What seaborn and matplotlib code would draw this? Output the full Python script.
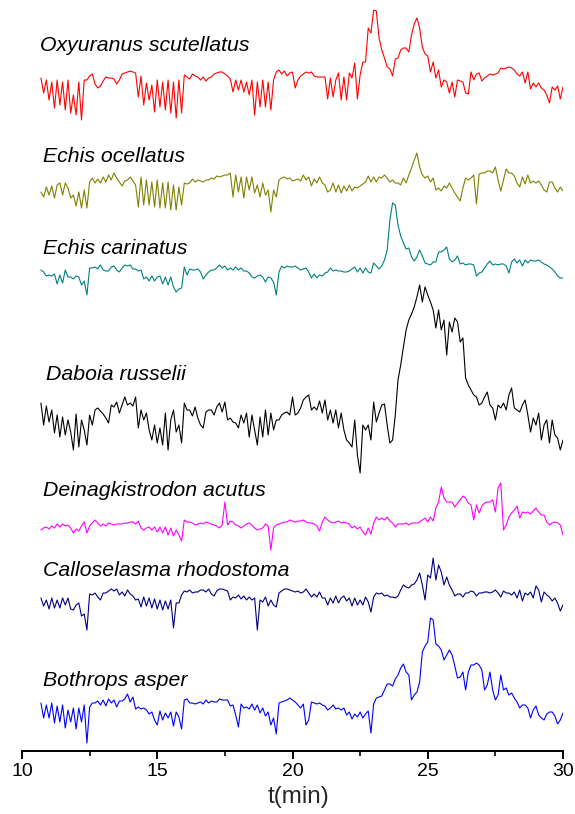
import numpy as np
import pandas as pd
import matplotlib
matplotlib.use("Agg")
import matplotlib.pyplot as plt
import seaborn as sns

sns.set_style("white")
plt.rcParams["font.family"] = ["Liberation Sans", "DejaVu Sans"]

# Sampling grid of the chromatograms (min)
time = np.round(10.7 + 0.1 * np.arange(194), 2)

species = ["Oxyuranus scutellatus", "Echis ocellatus", "Echis carinatus",
           "Daboia russelii", "Deinagkistrodon acutus",
           "Calloselasma rhodostoma", "Bothrops asper"]

# Detector signal of each venom (arbitrary units, baseline-corrected)
oxyuranus = [
    22, 7, 20, 0, 18, -8, 20, -5, 18, -10,
    20, -13, 5, -15, 18, -20, 20, 20, 24, 26,
    16, 12, 14, 19, 23, 22, 22, 21, 16, 20,
    26, 27, 28, 29, 28, 27, 3, 24, -5, 17,
    0, 15, -12, 20, -7, 18, -10, 20, -13, 18,
    -18, 20, -13, 25, 23, 21, 26, 24, 23, 20,
    23, 19, 22, 23, 26, 27, 28, 28, 26, 24,
    21, 8, 20, 10, 20, 8, 18, 5, 20, -15,
    18, -7, 20, -7, 18, -10, 20, 28, 30, 26,
    29, 24, 27, 28, 12, 20, 24, 26, 28, 27,
    28, 24, 23, 23, 23, 23, 1, 22, 3, 20,
    27, 0, 23, 0, 27, 22, 37, 1, 25, 38,
    38, 72, 67, 90, 89, 62, 50, 42, 33, 31,
    24, 41, 42, 50, 52, 52, 48, 65, 76, 82,
    72, 53, 46, 44, 28, 38, 22, 30, 13, 20,
    18, 7, 18, 3, 20, 19, 18, 7, 6, 28,
    20, 26, 27, 19, 22, 24, 26, 25, 26, 27,
    32, 31, 32, 33, 32, 30, 26, 24, 28, 17,
    28, 11, 17, 13, 17, 12, 10, 5, -3, 13,
    10, 14, 1, 13]

echis_ocellatus = [
    -10, -15, -5, -13, -4, -16, -3, -1, -13, -1,
    -6, -16, -13, -24, -10, -26, -8, -26, 0, 4,
    -1, 3, -1, 5, 0, 7, 2, 9, 4, 0,
    -4, 1, 2, 5, 1, -3, -25, 5, -23, 2,
    -23, 0, -25, 2, -26, -1, -26, 0, -28, -3,
    -28, -5, -23, -1, -2, -1, 3, 0, 2, 1,
    0, 2, 2, 4, 3, 6, 5, 6, 7, 7,
    9, -15, 7, -10, 5, -16, 5, -8, 5, -11,
    -3, -15, -1, -13, -8, -30, -8, -15, 2, 4,
    5, 3, 4, 1, 2, 3, 1, 7, 2, 5,
    -4, 3, -1, 5, -1, -3, -10, -8, -1, -10,
    -3, -11, -4, -9, -3, -9, -5, -6, -4, -2,
    0, 6, 0, 5, 0, 5, 4, 7, 4, 0,
    2, -1, -1, -3, 4, -1, 7, 14, 22, 29,
    15, 7, 4, 6, 0, 4, -8, -6, -9, -4,
    -6, -1, -6, -11, -15, -19, -6, 4, 2, 4,
    7, -22, 8, 9, 9, 11, 11, 9, 15, 2,
    -9, 2, 13, 9, 9, 6, -1, -5, 5, -2,
    7, -1, 1, -1, 1, -3, -8, -10, 0, 0,
    -6, -10, -5, -9]

echis_carinatus = [
    0, -2, -6, -5, -6, -4, -14, -5, -13, 0,
    -7, -7, -9, -6, -7, -15, -11, -25, 2, 2,
    3, 1, 5, 0, -1, -1, 3, 4, 0, -2,
    2, 5, 4, 5, 1, 1, -1, 0, -9, -7,
    -11, -6, -11, -7, -6, -14, -7, -15, -7, -17,
    -22, -19, -18, 3, -5, 1, 0, 0, 1, -2,
    -9, -5, -2, 0, 0, 2, 5, 2, 4, 0,
    2, 0, 3, 0, 2, -1, -1, -3, -7, -8,
    -6, -5, -7, -12, -7, -8, -12, -25, -2, 4,
    2, 4, 3, 3, 4, 2, 0, 1, 2, -2,
    -8, -4, -8, -5, -6, -3, -2, 2, -1, 0,
    -1, -1, -2, -2, -1, 1, 3, -2, 2, -3,
    2, -2, -3, 7, 4, 1, 4, 10, 20, 50,
    67, 65, 45, 34, 27, 21, 22, 13, 9, 13,
    20, 14, 7, 6, 5, 8, 8, 18, 18, 20,
    23, 11, 8, 10, 14, 6, 7, 5, 6, 6,
    5, -6, -3, -2, 2, 6, 9, 5, 6, 5,
    6, 6, 4, -3, 8, 11, 7, 10, 4, 10,
    7, 10, 9, 9, 10, 8, 6, 5, 3, 1,
    -2, -6, -8, -8]

daboia = [
    12, -10, 9, -7, 5, -18, 0, -22, -2, -20,
    -5, -17, -35, 1, -32, -5, -15, -30, 0, -10,
    5, 7, 4, 1, -3, -8, 10, 8, 13, 2,
    10, 18, 10, 12, 9, 18, -13, 5, -5, 2,
    -15, -25, -10, -28, -13, -30, 2, -35, -5, 5,
    -17, -10, -28, 12, 5, 5, -1, 8, -3, -10,
    -13, 3, 5, 5, 0, 8, 12, 3, 13, -5,
    -3, -7, -8, -13, 0, -8, 2, -22, 0, -15,
    -30, -2, -22, 5, -20, 2, -15, -5, -5, 0,
    2, 3, 0, 18, 0, 2, 7, 15, 18, 20,
    5, 8, 5, 14, 2, 15, -5, 5, -8, 5,
    -13, 2, -15, -25, -28, -32, -5, -40, -58, -10,
    -15, -10, -25, 13, -7, 2, 10, 11, -10, -28,
    -25, 0, 35, 50, 68, 85, 95, 101, 108, 118,
    130, 113, 128, 120, 113, 105, 87, 105, 85, 95,
    60, 93, 83, 97, 93, 73, 77, 37, 30, 25,
    20, 18, 10, 12, 18, 23, 10, 7, -5, 10,
    7, 12, 5, 20, 27, 7, 5, 3, 10, 15,
    0, -17, -3, -10, 2, -25, -10, -5, -28, -5,
    -20, -23, -35, -25]

deinagkistrodon = [
    -5, -3, -2, -4, -1, -3, 1, -2, 1, -1,
    0, -3, -8, -4, -6, -1, 3, -8, -1, 2,
    5, 2, -1, 1, -1, 2, 1, 0, 1, 1,
    1, 2, 2, 3, 3, 1, 4, -3, -5, -3,
    -2, -5, -2, -7, -2, -8, -2, -10, -3, -11,
    -5, -10, -16, 5, 3, 3, 2, 0, 1, 2,
    1, 3, 2, 1, 0, -1, -3, 0, 23, 0,
    4, 3, 0, -1, -3, -1, 1, 2, 0, -3,
    -5, -4, -3, 1, -1, -25, -3, 0, 1, 2,
    3, 3, 5, 4, 3, 4, 4, 5, 3, 2,
    2, 1, -1, -6, 3, 8, 5, 3, 2, 3,
    4, 2, 3, 2, 1, -3, -1, -4, -2, -7,
    -10, -3, -9, 2, 8, 5, 7, 5, 8, 4,
    2, -2, 1, 1, 1, 2, 0, 2, 2, 2,
    3, 5, 7, 3, 8, 4, 17, 23, 38, 27,
    23, 23, 23, 18, 22, 25, 29, 27, 22, 20,
    5, 20, 12, 19, 22, 23, 23, 25, 13, 37,
    42, -5, 0, 8, 12, 15, 19, 7, 13, 12,
    13, 11, 14, 17, 13, 10, 10, 3, 0, 2,
    3, 2, 0, -10]

calloselasma = [
    -5, -13, -7, -16, -5, -15, -7, -15, -5, -12,
    -5, -16, -17, -12, -10, -23, -21, -37, -1, -2,
    0, -4, -7, 0, 0, 2, 4, 2, 4, -2,
    1, -3, 3, -1, -3, -7, -6, -14, -4, -13,
    -5, -15, -6, -16, -7, -17, -8, -16, -7, -35,
    -10, -10, -2, 2, 1, 3, 0, 1, 1, 3,
    3, 1, 4, -1, -3, 2, 4, 4, 3, 2,
    -7, -4, -5, -2, -6, -3, -7, -4, -7, -5,
    -37, -7, -9, -4, -13, -7, -12, -14, 0, 2,
    4, 4, 3, 2, 1, 2, 0, 1, 4, 0,
    -4, -1, -4, 1, -5, -5, -12, -5, -10, -3,
    -10, -5, -3, -8, -5, -13, -5, -12, -7, -12,
    -4, -9, -19, -4, 0, -1, 0, -3, -2, -4,
    -4, -5, -3, 3, 8, 6, 5, 8, 9, 13,
    20, 8, -7, 18, 15, 35, 13, 28, 21, 8,
    16, 8, 3, -3, -1, -1, -4, 0, 0, 2,
    1, -3, 0, 0, 1, 1, 0, 1, 3, 0,
    -4, 2, 0, 0, -2, 1, -5, 3, -8, 0,
    -2, 1, -5, 7, 3, -9, 1, -2, -4, -8,
    -5, -10, -18, -12]

bothrops = [
    2, -13, 0, -13, 2, -18, -1, -17, 0, -23,
    -5, -17, -3, -24, -3, -17, 0, -38, -2, 2,
    2, 4, 0, 5, -1, 6, 2, 5, -2, 4,
    4, 6, 11, 3, 8, -4, -2, -4, -3, -5,
    -9, -7, -15, -20, -6, -15, -8, -13, -7, -21,
    -7, -12, -24, 5, 6, 2, 2, 1, 2, 3,
    1, 5, 2, 4, 3, 3, 6, 5, 5, 5,
    -1, 0, -10, -22, 1, -3, -2, -4, 1, -5,
    0, -8, -3, -11, -7, -20, -13, -29, 2, 3,
    4, 5, 7, 5, 3, 0, -3, 1, -20, -15,
    3, 2, 1, 2, 0, -1, -5, -3, 0, -4,
    -3, -5, -3, -10, -7, -14, -9, -12, -7, -13,
    -9, -6, -28, 1, 7, 8, 9, 15, 21, 21,
    19, 26, 30, 37, 41, 33, 30, 5, 10, 13,
    23, 53, 59, 63, 87, 85, 61, 59, 55, 45,
    50, 55, 50, 39, 27, 28, 33, 15, 33, 40,
    40, 42, 40, 35, 15, 20, 33, 15, 5, 10,
    30, 15, 17, 10, 12, 7, 3, -3, 0, 0,
    -3, -13, -5, -1, -10, -13, -15, -9, -7, -7,
    -11, -19, -15, -8]

signals = [oxyuranus, echis_ocellatus, echis_carinatus, daboia,
           deinagkistrodon, calloselasma, bothrops]
colors = ["#ff0000", "#808000", "#008080", "#000000",
          "#ff00ff", "#000080", "#0000ff"]

# vertical stacking of the traces and placement of their names
offsets = [651, 569, 481, 336, 226, 158, 46]
label_x = [10.665, 10.776, 10.776, 10.887, 10.776, 10.776, 10.776]
label_y = [700, 589, 497, 371, 255, 175, 65]

frames = []
for name, sig, off in zip(species, signals, offsets):
    frames.append(pd.DataFrame({"t": time,
                                "y": np.asarray(sig, float) + off,
                                "species": name}))
df = pd.concat(frames, ignore_index=True)

fig = plt.figure(figsize=(5.75, 8.14), dpi=100)
ax = fig.add_axes([22 / 575, 63 / 814, 541 / 575, 751 / 814])

sns.lineplot(data=df, x="t", y="y", hue="species", hue_order=species,
             palette=dict(zip(species, colors)), estimator=None, sort=False,
             linewidth=0.8, legend=False, ax=ax)

for name, x, y in zip(species, label_x, label_y):
    ax.text(x, y, name, fontsize=15.3, fontstyle="italic", color="black",
            ha="left", va="baseline")

ax.set_xlim(10, 30)
ax.set_ylim(0, 751)
ax.set_yticks([])
ax.set_ylabel("")
for side in ("left", "right", "top"):
    ax.spines[side].set_visible(False)
ax.spines["bottom"].set_linewidth(1.4)
ax.spines["bottom"].set_color("black")

ax.set_xticks([10, 15, 20, 25, 30])
ax.set_xticks([12.5, 17.5, 22.5, 27.5], minor=True)
ax.tick_params(axis="x", which="major", direction="out", length=6, width=1.4,
               labelsize=14, pad=3, colors="black", bottom=True)
ax.tick_params(axis="x", which="minor", direction="out", length=3.5, width=1.4,
               bottom=True)
ax.set_xlabel("t(min)", fontsize=17.5)
ax.xaxis.set_label_coords(0.512, -0.046)
ax.xaxis.label.set_va("top")

fig.savefig("out.png", dpi=100)
